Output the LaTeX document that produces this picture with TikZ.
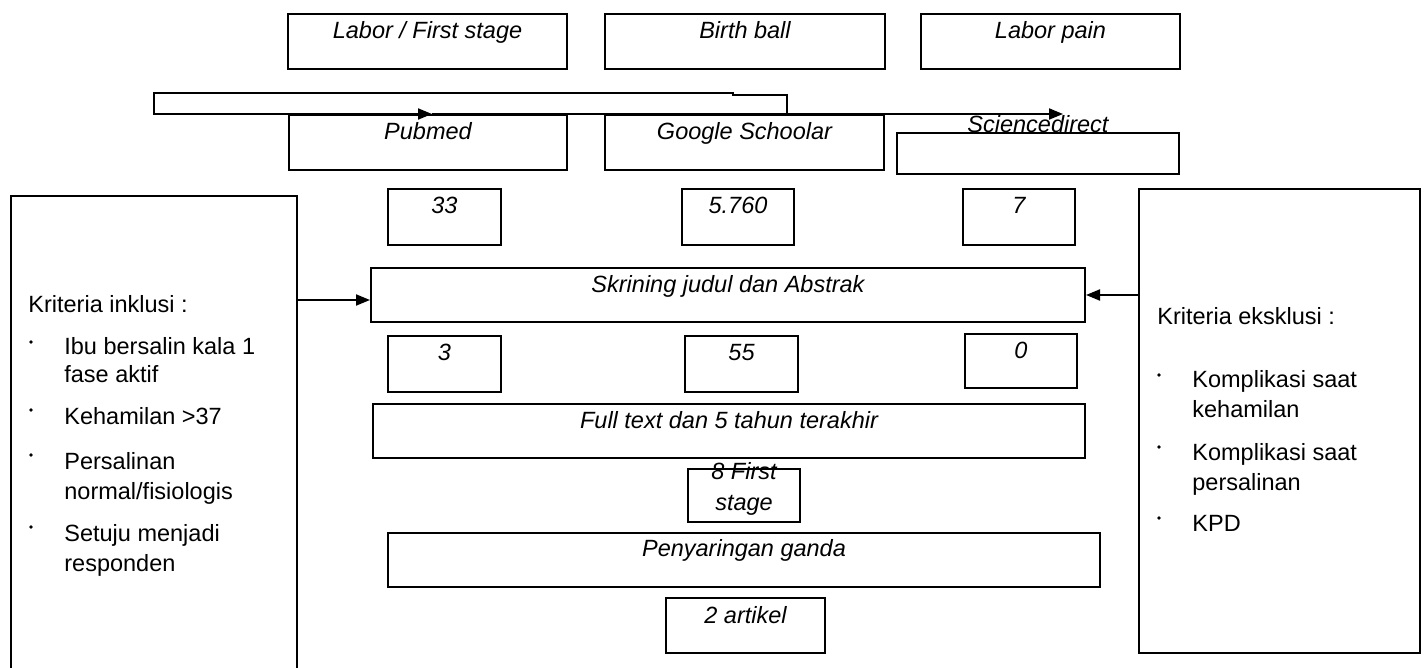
\documentclass[tikz,border=0pt]{standalone}
\usepackage{fontspec}
\setmainfont{Liberation Sans}
\usetikzlibrary{arrows.meta}

\begin{document}
\begin{tikzpicture}[
     x=0.5pt, y=-0.5pt,
     font=\fontsize{11.75}{15}\selectfont,
box/.style 2 args={draw, line width=1pt, inner sep=0pt, anchor=north west, align=center,
                minimum width=#1, text height=12.5pt, text depth=#2,
                font=\fontsize{11.75}{15.5}\selectfont\itshape},
crit/.style={draw, line width=1pt, inner sep=0pt, anchor=north west},
item/.style={anchor=base west, inner sep=0pt},
arr/.style={line width=1pt, -{Triangle[length=7pt, width=5.5pt]}},
  ]
\useasboundingbox (0,0) rectangle (1426,668);
\fill[white] (0,0) rectangle (1426,668);
\clip (0,0) rectangle (1426,668);
% keywords
  \node [box={139.5pt}{15pt}] (lab) at (287,13) {Labor / First stage};
  \node [box={140pt}{15pt}] (ball) at (604,13) {Birth ball};
  \node [box={129.5pt}{15pt}] (pain) at (920,13) {Labor pain};
% databases
  \node [box={139pt}{15pt}] (pub) at (288,114) {Pubmed};
  \node [box={139.5pt}{15pt}] (goo) at (604,114) {Google Schoolar};
  \node [box={141pt}{20.5pt}, text height=0pt] (sci) at (896,132) {Sciencedirect};
  \node [box={56.5pt}{15.5pt}] (n33) at (387,188) {33};
  \node [box={56pt}{15.5pt}] (n5760) at (681,188) {5.760};
  \node [box={56pt}{15.5pt}] (n7) at (962,188) {7};
% screening
  \node [box={357pt}{14.5pt}] (skr) at (370,267) {Skrining judul dan Abstrak};
  \node [box={56.5pt}{15.5pt}] (n3) at (387,335) {3};
  \node [box={56.5pt}{15.5pt}] (n55) at (684,335) {55};
  \node [box={56pt}{14.5pt}] (n0) at (964,333) {0};
  \node [box={356pt}{14.5pt}] (full) at (372,403) {Full text dan 5 tahun terakhir};
  \node [box={56pt}{6pt}, text height=20.5pt] (n8) at (687,468) {8 First\\stage};
  \node [box={356pt}{15.5pt}, text height=11.5pt] (ganda) at (387,532) {Penyaringan ganda};
  \node [box={79.5pt}{15pt}] (art) at (665,597) {2 artikel};
% criteria
  \node [crit, minimum width=143pt, minimum height=252.5pt] (incl) at (10,195) {};
  \node [crit, minimum width=140.5pt, minimum height=232pt] (excl) at (1138,188) {};
  \foreach \i/\x/\y/\t in {0/28/313/Kriteria inklusi :, 1/64/355/Ibu bersalin kala 1,
      2/64/383/fase aktif, 3/64/425/Kehamilan >37, 4/64/470/Persalinan,
      5/64/500/{normal/fisiologis}, 6/64/541/Setuju menjadi, 7/64/571/responden}
    \node [item] (in\i) at (\x,\y) {\t};
  \foreach \i/\x/\y/\t in {0/1157/325/Kriteria eksklusi :, 1/1192/388/Komplikasi saat,
      2/1192/418/kehamilan, 3/1192/460/Komplikasi saat, 4/1192/490/persalinan,
      5/1192/531/KPD}
    \node [item] (ex\i) at (\x,\y) {\t};
  \foreach \x/\y in {31/342, 31/410, 31/455, 31/527, 1159/375, 1159/447, 1159/518}
    \fill (\x,\y) circle [radius=0.9pt];
% connectors
  \coordinate (split) at (787,114);
  \coordinate (pubIn) at (432,114);
  \coordinate (sciIn) at (1063,114);
  \coordinate (skrL) at ([yshift=-2.5pt]skr.west);
  \draw[arr] (split) |- (733,95) -- (733,93) -| (154,114) -- (pubIn);
  \draw[arr] (pubIn) -- (sciIn);
  \draw[arr] (incl.east |- skrL) -- (skrL);
  \draw[arr] (excl.west |- skr.east) -- (skr.east);
\end{tikzpicture}
\end{document}
